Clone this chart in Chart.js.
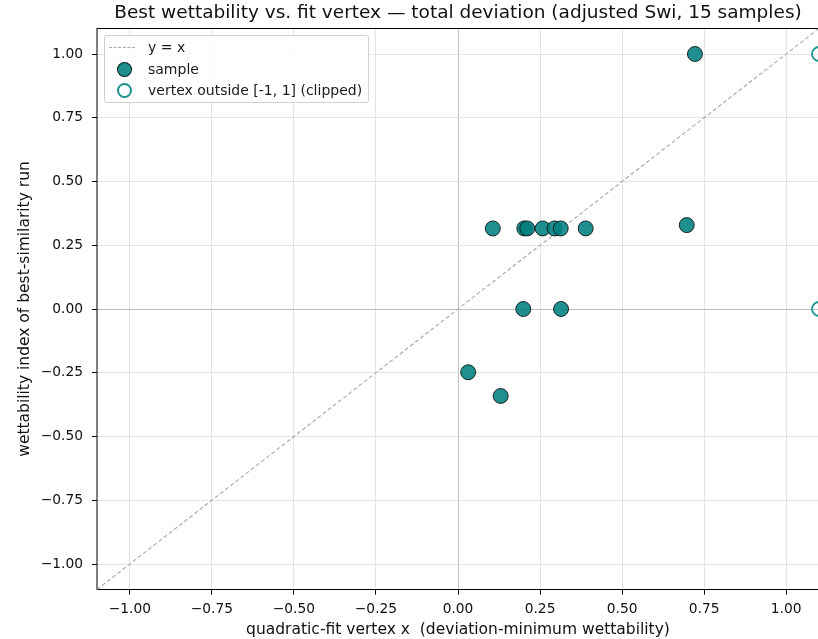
<!DOCTYPE html>
<html>
<head>
<meta charset="utf-8">
<script src="https://cdn.jsdelivr.net/npm/chart.js@4/dist/chart.umd.min.js"></script>
<style>
  html, body { margin: 0; padding: 0; background: #fff; overflow: hidden; }
  #wrap { position: relative; width: 840px; height: 639px; }
  #legend {
    position: absolute; left: 104px; top: 35px; width: 263px; height: 66px;
    border: 1px solid #d0d0d0; border-radius: 3px; background: rgba(255,255,255,0.85);
    font-family: 'DejaVu Sans', sans-serif; font-size: 14px; color: #1a1a1a;
  }
  .row { position: absolute; left: 0; height: 20px; line-height: 20px; }
  .row span.lbl { position: absolute; left: 43px; white-space: nowrap; }
  .dash { position: absolute; left: 4px; top: 10px; width: 26px; border-top: 1px dashed #a8a8a8; }
  .dot { position: absolute; left: 12px; top: 3px; width: 13px; height: 13px; border-radius: 50%; }
</style>
</head>
<body>
<div id="wrap">
  <canvas id="chart" width="840" height="639"></canvas>
  <div id="legend">
    <div class="row" style="top:1px"><div class="dash"></div><span class="lbl">y = x</span></div>
    <div class="row" style="top:23px"><div class="dot" style="background:rgba(0,128,128,0.88);border:1px solid rgba(0,0,0,0.8)"></div><span class="lbl">sample</span></div>
    <div class="row" style="top:44px"><div class="dot" style="border:2px solid #1b9490;width:11px;height:11px"></div><span class="lbl">vertex outside [-1, 1] (clipped)</span></div>
  </div>
</div>
<script>
// tick positions
const xTicks = [-1, -0.75, -0.5, -0.25, 0, 0.25, 0.5, 0.75, 1];
const yTicks = [-1, -0.75, -0.5, -0.25, 0, 0.25, 0.5, 0.75, 1];

// samples with vertex inside [-1, 1]
const sampleX = [0.722, 0.697, 0.106, 0.202, 0.211, 0.258, 0.294, 0.313, 0.389, 0.199, 0.314, 0.031, 0.130];
const sampleY = [1.0, 0.329, 0.316, 0.316, 0.316, 0.316, 0.316, 0.316, 0.316, 0.0, 0.0, -0.248, -0.341];

// samples whose vertex fell outside and was clipped to the edge
const clippedX = [1.1, 1.1];
const clippedY = [1.0, 0.0];

// y = x reference line
const diagX = [-1.1, 1.1];
const diagY = [-1.1, 1.1];

const FONT = "'DejaVu Sans', sans-serif";
const fmt = v => v.toFixed(2).replace('-', '\u2212');
const toPts = (xs, ys) => xs.map((x, i) => ({ x, y: ys[i] }));

const frame = {
    id: 'frame',
    beforeDatasetsDraw(chart) {
        const { ctx, chartArea: a } = chart;
        ctx.save();
        ctx.strokeStyle = '#000';
        ctx.lineWidth = 1;
        ctx.strokeRect(a.left, a.top, a.right - a.left, a.bottom - a.top);
        ctx.restore();
    }
};

const gridColor = c => c.tick && c.tick.value === 0 ? '#c0c0c0' : '#e4e4e4';

new Chart(document.getElementById('chart'), {
    type: 'scatter',
    data: {
        datasets: [
            {
                label: 'sample',
                data: toPts(sampleX, sampleY),
                backgroundColor: 'rgba(0,128,128,0.88)',
                borderColor: 'rgba(0,0,0,0.8)',
                borderWidth: 1,
                pointRadius: 7.5,
                order: 1
            },
            {
                label: 'vertex outside [-1, 1] (clipped)',
                data: toPts(clippedX, clippedY),
                backgroundColor: 'rgba(0,0,0,0)',
                borderColor: '#1b9490',
                borderWidth: 1.8,
                pointRadius: 7,
                clip: false,
                order: 2
            },
            {
                label: 'y = x',
                type: 'line',
                data: toPts(diagX, diagY),
                borderColor: '#a8a8a8',
                borderWidth: 1.1,
                borderDash: [4, 2.5],
                pointRadius: 0,
                fill: false,
                order: 3
            }
        ]
    },
    options: {
        responsive: false,
        animation: false,
        layout: { padding: { left: 0, right: 21, top: 0, bottom: 0 } },
        plugins: {
            legend: { display: false },
            tooltip: { enabled: false },
            title: {
                display: true,
                fullSize: false,
                text: 'Best wettability vs. fit vertex \u2014 total deviation (adjusted Swi, 15 samples)',
                color: '#111',
                font: { family: FONT, size: 18.5, weight: 'normal' },
                padding: { top: 2.5, bottom: 3.8 }
            }
        },
        scales: {
            x: {
                type: 'linear',
                min: -1.1, max: 1.1,
                afterBuildTicks: s => { s.ticks = xTicks.map(v => ({ value: v })); },
                afterFit: s => { s.height = 49.5; },
                border: { display: false },
                grid: { color: gridColor, tickColor: '#000', tickLength: 5, lineWidth: 1 },
                ticks: { color: '#111', padding: 7, maxRotation: 0, font: { family: FONT, size: 13.8 }, callback: v => fmt(v) },
                title: {
                    display: true,
                    text: 'quadratic-fit vertex x  (deviation-minimum wettability)',
                    color: '#111',
                    font: { family: FONT, size: 15.5 },
                    padding: { top: 0, bottom: 0 }
                }
            },
            y: {
                type: 'linear',
                min: -1.1, max: 1.1,
                afterBuildTicks: s => { s.ticks = yTicks.map(v => ({ value: v })); },
                afterFit: s => { s.width = 97; },
                border: { display: false },
                grid: { color: gridColor, tickColor: '#000', tickLength: 5, lineWidth: 1 },
                ticks: { color: '#111', padding: 9, font: { family: FONT, size: 13.8 }, callback: v => fmt(v) },
                title: {
                    display: true,
                    text: 'wettability index of best-similarity run',
                    color: '#111',
                    font: { family: FONT, size: 15.5 },
                    padding: { top: 16, bottom: 0 }
                }
            }
        }
    },
    plugins: [frame]
});
</script>
</body>
</html>
